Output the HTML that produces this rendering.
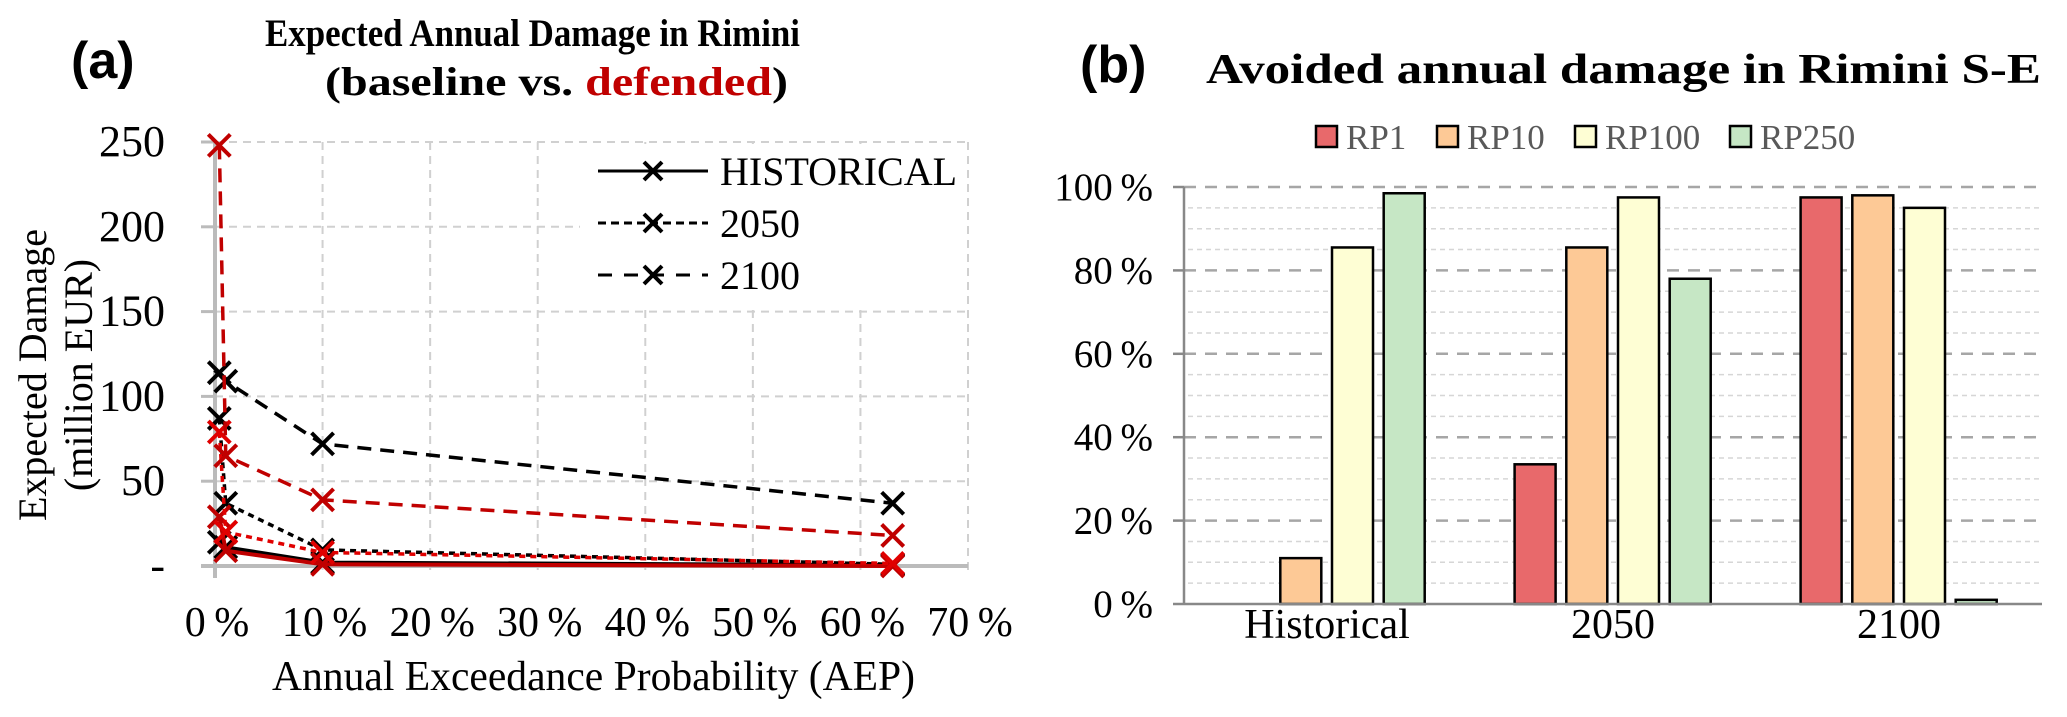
<!DOCTYPE html>
<html><head><meta charset="utf-8"><style>
html,body{margin:0;padding:0;background:#fff;}
svg{display:block;font-family:"Liberation Serif",serif;}
</style></head><body>
<svg id="chart" width="2067" height="717" viewBox="0 0 2067 717" xmlns="http://www.w3.org/2000/svg">
<g id="left"></g>
<g id="right"></g>
</svg>
<script>
// ---------- Panel (a) data ----------
const aepValues = [0.4, 1, 10, 63];
const xTickLabels = ["0%","10%","20%","30%","40%","50%","60%","70%"];
const yTickValues = [0,50,100,150,200,250];
const yTickLabels = ["-","50","100","150","200","250"];
const baseHistorical = [14, 11, 2, 0.5];
const base2050 = [87, 37, 9.5, 1];
const base2100 = [114, 109, 72, 37];
const defHistorical = [29, 9, 1, 0];
const def2050 = [79, 20, 8, 1.5];
const def2100 = [248, 65, 39, 18];
// ---------- Panel (b) data ----------
const categories = ["Historical","2050","2100"];
const rpNames = ["RP1","RP10","RP100","RP250"];
const rp1 = [0, 33.5, 97.5];
const rp10 = [11, 85.5, 98];
const rp100 = [85.5, 97.5, 95];
const rp250 = [98.5, 78, 1];
const pctTicks = [0,20,40,60,80,100];

const NS="http://www.w3.org/2000/svg";
function mk(parent,tag,attrs,text){const e=document.createElementNS(NS,tag);for(const k in attrs)e.setAttribute(k,attrs[k]);if(text!==undefined)e.textContent=text;parent.appendChild(e);return e;}

// ---------- Panel (a) ----------
const L=document.getElementById('left');
const ax={x0:215,x1:968,y0:566,y1:142};
const xS=v=>ax.x0+(v/70)*(ax.x1-ax.x0);
const yS=v=>ax.y0-(v/250)*(ax.y0-ax.y1);
for(let i=1;i<=7;i++){const gx=xS(i*10);
 const g=mk(L,'line',{x1:gx,x2:gx,y1:ax.y1,y2:ax.y0+10,stroke:'#d0d0d0','stroke-width':2,'stroke-dasharray':'8 6'});
 }
yTickValues.forEach(v=>{if(v===0)return;const gy=yS(v);
 const g=mk(L,'line',{x1:ax.x0-14,x2:ax.x1,y1:gy,y2:gy,stroke:'#d0d0d0','stroke-width':2,'stroke-dasharray':'8 6'});
 
 const t=mk(L,'line',{x1:ax.x0-14,x2:ax.x0,y1:gy,y2:gy,stroke:'#bbb','stroke-width':3});
 });
const lb=mk(L,'rect',{x:580,y:ax.y1+2,width:385,height:166,fill:'#fff'});

const ya=mk(L,'line',{x1:ax.x0,x2:ax.x0,y1:ax.y1,y2:ax.y0+12,stroke:'#bbb','stroke-width':4});

const xa=mk(L,'line',{x1:ax.x0-14,x2:ax.x1,y1:ax.y0,y2:ax.y0,stroke:'#bbb','stroke-width':4});

yTickValues.forEach((v,i)=>{const t=mk(L,'text',{x:165,y:yS(v)+14,'font-size':44,'text-anchor':'end',fill:'#000'},yTickLabels[i]);
 });
xTickLabels.forEach((s,i)=>{const t=mk(L,'text',{x:xS(i*10)+2,y:636,'font-size':42,'text-anchor':'middle',fill:'#000'},s.replace('%','\u2009%'));
 });
const series=[
 {n:'baseline-historical',d:baseHistorical,c:'#000',dash:'',w:4},
 {n:'baseline-2050',d:base2050,c:'#000',dash:'6 5',w:3.5},
 {n:'baseline-2100',d:base2100,c:'#000',dash:'14 9',w:3.5},
 {n:'defended-historical',d:defHistorical,c:'#c00000',dash:'',w:4},
 {n:'defended-2050',d:def2050,c:'#e00000',dash:'6 5',w:3.5},
 {n:'defended-2100',d:def2100,c:'#c00000',dash:'14 9',w:3.5}];
function xMark(p,cx,cy,c,s){return mk(p,'path',{d:`M${cx-s} ${cy-s}L${cx+s} ${cy+s}M${cx-s} ${cy+s}L${cx+s} ${cy-s}`,stroke:c,'stroke-width':4,fill:'none'});}
series.forEach(s=>{const g=mk(L,'g',{});
 const pts=s.d.map((v,i)=>xS(aepValues[i])+','+yS(v)).join(' ');
 const pl=mk(g,'polyline',{points:pts,fill:'none',stroke:s.c,'stroke-width':s.w,'stroke-dasharray':s.dash});
 
 s.d.forEach((v,i)=>{const m=xMark(g,xS(aepValues[i]),yS(v),s.c,11);
  });});
const legItems=[['HISTORICAL','',3],['2050','8 5',3],['2100','14 12',3]];
legItems.forEach((it,i)=>{const y=171+i*52;const g=mk(L,'g',{});
 mk(g,'line',{x1:598,x2:708,y1:y,y2:y,stroke:'#000','stroke-width':it[2],'stroke-dasharray':it[1]});
 xMark(g,653,y,'#000',9);
 mk(g,'text',{x:720,y:y+14,'font-size':40,fill:'#000'},it[0]);});
const ta=mk(L,'text',{x:71,y:78,'font-size':52,'font-weight':'bold','font-family':'Liberation Sans, sans-serif'},'(a)');

const t1=mk(L,'text',{x:265,y:46,'font-size':39,'font-weight':'bold',textLength:535,lengthAdjust:'spacingAndGlyphs'},'Expected Annual Damage in Rimini');

const t2=mk(L,'text',{x:325,y:95,'font-size':40,'font-weight':'bold',textLength:463,lengthAdjust:'spacingAndGlyphs'});

t2.innerHTML='(baseline vs. <tspan fill="#c00000">defended</tspan>)';
const yt=mk(L,'text',{transform:'translate(46,375) rotate(-90)','font-size':40,'text-anchor':'middle'});

yt.innerHTML='<tspan x="0" y="0">Expected Damage</tspan><tspan x="0" y="46">(million EUR)</tspan>';
const xt=mk(L,'text',{x:272,y:690,'font-size':42,textLength:643,lengthAdjust:'spacingAndGlyphs'},'Annual Exceedance Probability (AEP)');


// ---------- Panel (b) ----------
const R=document.getElementById('right');
const bx={x0:1184,x1:2042,y0:604,y1:187};
const band=(bx.x1-bx.x0)/categories.length;
const catX=i=>bx.x0+band*(i+0.5);
const pS=v=>bx.y0-(v/100)*(bx.y0-bx.y1);
for(let v=5;v<100;v+=5){if(v%20===0)continue;const gy=pS(v);
 const g=mk(R,'line',{x1:bx.x0+4,x2:bx.x1,y1:gy,y2:gy,stroke:'#d6d6d6','stroke-width':1.5,'stroke-dasharray':'5 4'});
 }
pctTicks.forEach(v=>{const gy=pS(v);
 if(v>0){const g=mk(R,'line',{x1:bx.x0,x2:bx.x1,y1:gy,y2:gy,stroke:'#a6a6a6','stroke-width':2.5,'stroke-dasharray':'12 9'});
 }
 const tk=mk(R,'line',{x1:bx.x0-11,x2:bx.x0,y1:gy,y2:gy,stroke:'#888','stroke-width':2.5});
 
 const t=mk(R,'text',{x:1153,y:gy+13,'font-size':39,'text-anchor':'end'},v+'\u2009%');
 });
const rya=mk(R,'line',{x1:bx.x0,x2:bx.x0,y1:bx.y1,y2:bx.y0,stroke:'#888','stroke-width':2.5});

const colors=['#e8696b','#fdc996','#fefed4','#c6e7c5'];
const rpSeries=[rp1,rp10,rp100,rp250];
const bw=41,step=51.7;
rpSeries.forEach((arr,s)=>{arr.forEach((v,i)=>{const x=catX(i)-2*step+5+s*step;const y=pS(v);
 const r=mk(R,'rect',{x:x,y:y,width:bw,height:bx.y0-y,fill:colors[s],stroke:'#000','stroke-width':2.5});
 });});
const rxa=mk(R,'line',{x1:bx.x0,x2:bx.x1,y1:bx.y0,y2:bx.y0,stroke:'#888','stroke-width':2.5});

categories.forEach((c,i)=>{const t=mk(R,'text',{x:catX(i),y:638,'font-size':42,'text-anchor':'middle'},c);
 });
const legX=[1316,1437,1575,1730];
rpNames.forEach((n,i)=>{const g=mk(R,'g',{});
 mk(g,'rect',{x:legX[i],y:126,width:21,height:21,fill:colors[i],stroke:'#000','stroke-width':2.5});
 mk(g,'text',{x:legX[i]+30,y:149,'font-size':35,fill:'#595959'},n);});
const tb=mk(R,'text',{x:1080,y:82,'font-size':52,'font-weight':'bold','font-family':'Liberation Sans, sans-serif'},'(b)');

const tt=mk(R,'text',{x:1206,y:83,'font-size':42,'font-weight':'bold',textLength:835,lengthAdjust:'spacingAndGlyphs'},'Avoided annual damage in Rimini S-E');

</script>
</body></html>
